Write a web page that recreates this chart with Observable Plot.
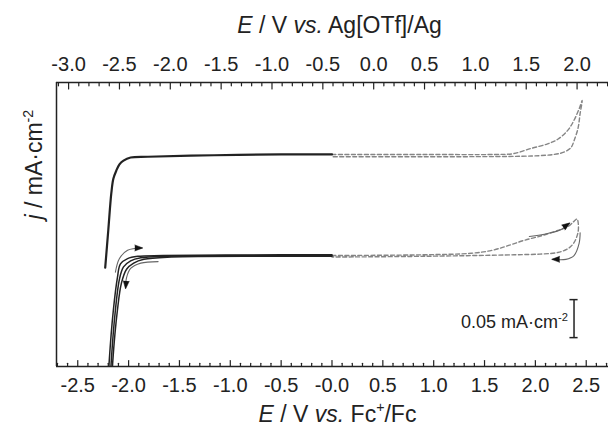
<!DOCTYPE html>
<html>
<head>
<meta charset="utf-8">
<script src="https://cdn.jsdelivr.net/npm/d3@7"></script>
<script src="https://cdn.jsdelivr.net/npm/@observablehq/plot@0.6"></script>
<style>
  html, body { margin: 0; padding: 0; background: #fff; }
  #chart { width: 608px; height: 426px; }
</style>
</head>
<body>
<div id="chart"></div>
<script>
// ---------------- data ----------------
// potentials (V vs. Fc+/Fc) and current density (mA·cm-2, curves offset for clarity)
const fcTicks = [-2.5, -2.0, -1.5, -1.0, -0.5, 0.0, 0.5, 1.0, 1.5, 2.0, 2.5];
const agTicks = [-3.0, -2.5, -2.0, -1.5, -1.0, -0.5, 0.0, 0.5, 1.0, 1.5, 2.0];
const agOffset = 0.41; // E(vs Fc+/Fc) = E(vs Ag[OTf]/Ag) + agOffset

const xTitleTop = "E / V vs. Ag[OTf]/Ag";
const xTitleBottom = "E / V vs. Fc+/Fc";
const yTitle = "j / mA·cm-2";
const scaleLabel = "0.05 mA·cm-2";

// upper CV (solid = negative region, dashed = positive region)
const upperSolid = [[-2.23,0.130],[-2.20,0.179],[-2.17,0.228],[-2.15,0.247],[-2.12,0.258],[-2.09,0.266],[-2.05,0.271],[-1.98,0.275],[-1.81,0.276],[-1.16,0.278],[-0.50,0.279],[0.00,0.279]];
const upperDashed = [[0.00,0.279],[0.90,0.279],[1.60,0.279],[1.78,0.280],[1.96,0.287],[2.12,0.293],[2.22,0.299],[2.32,0.311],[2.38,0.324],[2.43,0.339],[2.46,0.350],
                     [2.44,0.333],[2.42,0.314],[2.38,0.297],[2.35,0.288],[2.28,0.282],[2.18,0.279],[1.96,0.277],[0.90,0.276],[0.00,0.276]];

// lower CV (several cycles)
const lowerSolidA = [[-2.20,-0.020],[-2.19,0.008],[-2.15,0.074],[-2.11,0.117],[-2.08,0.135],[-2.01,0.142],[-1.91,0.145],[-1.66,0.146],[-0.50,0.147],[0.00,0.147]];
const lowerSolidB = [[-2.18,-0.020],[-2.17,0.008],[-2.13,0.074],[-2.09,0.115],[-2.05,0.131],[-1.98,0.139],[-1.88,0.143],[-1.62,0.145],[-0.50,0.146],[0.00,0.146]];
const lowerSolidC = [[-2.165,-0.020],[-2.155,0.008],[-2.11,0.074],[-2.07,0.110],[-2.02,0.128],[-1.95,0.136],[-1.85,0.141],[-1.58,0.144],[-0.50,0.145],[0.00,0.145]];
const lowerDashed = [[0.00,0.146],[0.90,0.147],[1.37,0.149],[1.58,0.153],[1.73,0.159],[1.89,0.166],[2.06,0.172],[2.22,0.179],[2.32,0.184],[2.38,0.191],[2.41,0.194],
                     [2.42,0.190],[2.42,0.177],[2.38,0.163],[2.32,0.155],[2.22,0.150],[2.06,0.148],[1.79,0.147],[0.90,0.145],[0.00,0.144]];

// scan-direction arrows
const arrowLeftUp    = [[-2.13,0.124],[-2.09,0.142],[-2.01,0.153],[-1.87,0.156]];
const arrowLeftDown  = [[-1.71,0.138],[-1.88,0.136],[-1.98,0.129],[-2.02,0.117],[-2.03,0.104]];
const arrowRightUp   = [[1.94,0.171],[2.12,0.175],[2.25,0.180],[2.33,0.188]];
const arrowRightDown = [[2.44,0.176],[2.43,0.162],[2.38,0.146],[2.30,0.141],[2.17,0.141]];
const arrowHeads = [
  {E: -1.86, j: 0.156, angle: 90},
  {E: -2.03, j: 0.102, angle: 185},
  {E: 2.34, j: 0.189, angle: 55},
  {E: 2.16, j: 0.141, angle: 270}
];

// scale bar (mA·cm-2)
const scaleBar = {E: 2.38, j0: 0.038, size: 0.05};

// ---------------- chart ----------------
const ink = "#222";
const xDomain = [-2.709, 2.719];
const yDomain = [0, 0.3737];
const pts = arr => arr.map(([E, j]) => ({E, j}));
const fmt1 = v => { const r = Math.round(v * 10) / 10; return (Object.is(r, -0) ? 0 : r).toFixed(1); };
const fcFormat = d => Math.abs(d) < 1e-9 ? "-0.0" : fmt1(d);
const agFormat = d => fmt1(d - agOffset);

const fcMinor = d3.range(-27, 28).map(i => i / 10).filter(v => Math.abs(v * 2 - Math.round(v * 2)) > 1e-6);
const agMinor = d3.range(-31, 24).map(i => i / 10).filter(v => Math.abs(v * 2 - Math.round(v * 2)) > 1e-6).map(v => v + agOffset);
const agMajor = agTicks.map(v => v + agOffset);
const tickShape = { draw(context, l) { context.moveTo(0, 0); context.lineTo(0, -l); } };

const tickMarks = (values, anchor, len) => Plot.vector(values, {
  x: d => d, frameAnchor: anchor, length: len, anchor: "start",
  rotate: anchor === "bottom" ? 0 : 180, shape: tickShape, stroke: ink, strokeWidth: 1.2
});

const solid = (data, w) => Plot.line(pts(data), {x: "E", y: "j", stroke: ink, strokeWidth: w, curve: "catmull-rom", clip: true});
const dashed = data => Plot.line(pts(data), {x: "E", y: "j", stroke: "#858585", strokeWidth: 1.4, strokeDasharray: "4,2.5", curve: "catmull-rom"});
const arrowLine = data => Plot.line(pts(data), {x: "E", y: "j", stroke: "#666", strokeWidth: 1.1, curve: "catmull-rom"});

const plot = Plot.plot({
  width: 608, height: 426,
  marginLeft: 56, marginRight: 0, marginTop: 82, marginBottom: 60,
  x: {domain: xDomain},
  y: {domain: yDomain, axis: null},
  style: {fontFamily: "'Liberation Sans', Arial, Helvetica, sans-serif", fontSize: "20px", color: ink, background: "white"},
  marks: [
    // frame (left, top, bottom)
    Plot.ruleX([xDomain[0]], {stroke: ink, strokeWidth: 1.5}),
    Plot.ruleY([yDomain[0], yDomain[1]], {stroke: ink, strokeWidth: 1.5}),
    // inward ticks
    tickMarks(fcTicks, "bottom", 6),
    tickMarks(fcMinor, "bottom", 3.2),
    tickMarks(agMajor, "top", 6.5),
    tickMarks(agMinor, "top", 3.3),
    // tick labels
    Plot.axisX({anchor: "bottom", ticks: fcTicks, tickSize: 0, tickPadding: 11, tickFormat: fcFormat, fontSize: 20, label: null}),
    Plot.axisX({anchor: "top", ticks: agMajor, tickSize: 0, tickPadding: 12, tickFormat: agFormat, fontSize: 20, label: null}),
    // curves
    dashed(upperDashed),
    dashed(lowerDashed),
    solid(upperSolid, 2.2),
    solid(lowerSolidA, 1.5),
    solid(lowerSolidB, 1.5),
    solid(lowerSolidC, 1.5),
    // arrows
    arrowLine(arrowLeftUp),
    arrowLine(arrowLeftDown),
    arrowLine(arrowRightUp),
    arrowLine(arrowRightDown),
    Plot.vector(arrowHeads, {x: "E", y: "j", rotate: "angle", length: 8, r: 3, shape: "spike", anchor: "end", fill: "#111", stroke: "#111", strokeWidth: 0.5}),
    // scale bar
    Plot.ruleX([scaleBar], {x: "E", y1: "j0", y2: d => d.j0 + d.size, stroke: ink, strokeWidth: 1.5}),
    Plot.ruleY([scaleBar.j0, scaleBar.j0 + scaleBar.size], {y: d => d, x1: scaleBar.E - 0.04, x2: scaleBar.E + 0.04, stroke: ink, strokeWidth: 1.5}),
    Plot.text([scaleLabel], {x: scaleBar.E, y: scaleBar.j0 + scaleBar.size / 2, text: d => d, textAnchor: "end", lineAnchor: "middle", dx: -6, dy: 4, fontSize: 18, fill: ink}),
    // axis titles
    Plot.text([xTitleTop], {frameAnchor: "top", lineAnchor: "bottom", text: d => d, dx: 7, dy: -50, fontSize: 23, fill: ink}),
    Plot.text([xTitleBottom], {frameAnchor: "bottom", lineAnchor: "bottom", text: d => d, dx: 5, dy: 55, fontSize: 23, fill: ink}),
    Plot.text([yTitle], {frameAnchor: "left", lineAnchor: "middle", text: d => d, rotate: -90, dx: -22, dy: -5, fontSize: 23, fill: ink})
  ]
});

// rich text: italics and superscripts
const rich = {
  [xTitleTop]:    {fs: 23, parts: [["E", "i"], [" / V "], ["vs.", "i"], [" Ag[OTf]/Ag"]]},
  [xTitleBottom]: {fs: 23, parts: [["E", "i"], [" / V "], ["vs.", "i"], [" Fc"], ["+", "sup"], ["/Fc"]]},
  [yTitle]:       {fs: 23, parts: [["j", "i"], [" / mA·cm"], ["-2", "sup"]]},
  [scaleLabel]:   {fs: 18, parts: [["0.05 mA·cm"], ["-2", "sup"]]}
};
d3.select(plot).selectAll("text").each(function () {
  const spec = rich[this.textContent];
  if (!spec) return;
  const t = d3.select(this);
  t.text(null);
  let raised = false;
  for (const [str, kind] of spec.parts) {
    const ts = t.append("tspan").text(str);
    if (kind === "i") ts.attr("font-style", "italic");
    if (kind === "sup") {
      ts.attr("font-size", spec.fs * 0.62).attr("dy", -spec.fs * 0.4);
      raised = true;
    } else if (raised) {
      ts.attr("dy", spec.fs * 0.4);
      raised = false;
    }
  }
});

document.getElementById("chart").appendChild(plot);
</script>
</body>
</html>
